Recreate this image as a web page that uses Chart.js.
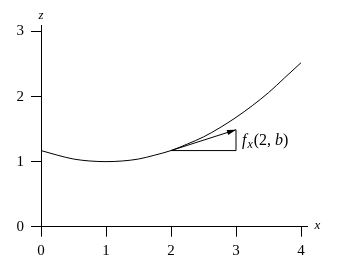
<!DOCTYPE html>
<html><head><meta charset="utf-8">
<script src="https://cdn.jsdelivr.net/npm/chart.js@4/dist/chart.umd.min.js"></script>
<style>html,body{margin:0;padding:0;background:#fff}#w{width:343px;height:266px}</style>
</head><body><div id="w"><canvas id="c" width="343" height="266"></canvas></div>
<script>
const curveX = [0, 0.25, 0.5, 0.75, 1, 1.25, 1.5, 1.75, 2, 2.25, 2.5, 2.75, 3, 3.25, 3.5, 3.75, 4];
const curveZ = [1.17, 1.10, 1.04, 1.01, 1.00, 1.01, 1.04, 1.10, 1.17, 1.27, 1.38, 1.52, 1.68, 1.86, 2.06, 2.29, 2.52];
const tangentX = [2, 3];
const tangentZ = [1.17, 1.49];
const runX = [2, 3, 3];
const runZ = [1.17, 1.17, 1.49];
const xTicks = [0, 1, 2, 3, 4];
const zTicks = [0, 1, 2, 3];

const pts = (xs, ys) => xs.map((x, i) => ({x, y: ys[i]}));
const SERIF = '"Liberation Serif", "DejaVu Serif", serif';

const annot = {
  id: 'annot',
  afterDatasetsDraw(chart) {
    const ctx = chart.ctx, xs = chart.scales.x, ys = chart.scales.y;
    ctx.save();
    ctx.fillStyle = '#000';
    // arrowhead
    const x0 = xs.getPixelForValue(tangentX[0]), y0 = ys.getPixelForValue(tangentZ[0]);
    const x1 = xs.getPixelForValue(tangentX[1]), y1 = ys.getPixelForValue(tangentZ[1]);
    const a = Math.atan2(y1 - y0, x1 - x0);
    const L = 9, W = 2.6;
    ctx.beginPath();
    ctx.moveTo(x1, y1);
    ctx.lineTo(x1 - L*Math.cos(a) + W*Math.sin(a), y1 - L*Math.sin(a) - W*Math.cos(a));
    ctx.lineTo(x1 - L*Math.cos(a) - W*Math.sin(a), y1 - L*Math.sin(a) + W*Math.cos(a));
    ctx.closePath();
    ctx.fill();
    // axis names
    ctx.font = 'italic 13px ' + SERIF;
    ctx.textAlign = 'center';
    ctx.textBaseline = 'middle';
    ctx.fillText('z', xs.getPixelForValue(0), ys.top - 9);
    ctx.fillText('x', xs.right + 10, ys.getPixelForValue(0) - 1);
    // f_x(2,b)
    ctx.textAlign = 'left';
    ctx.textBaseline = 'alphabetic';
    let px = x1 + 6;
    const base = ys.getPixelForValue(tangentZ[0]) - 5.5;
    const seg = (t, font, dy) => { ctx.font = font; ctx.fillText(t, px, base + dy); px += ctx.measureText(t).width; };
    seg('f', 'italic 16px ' + SERIF, 0);
    px += 1;
    seg('x', 'italic 12px ' + SERIF, 2.5);
    px += 1;
    seg('(2, ', '16px ' + SERIF, 0);
    seg('b', 'italic 16px ' + SERIF, 0);
    seg(')', '16px ' + SERIF, 0);
    ctx.restore();
  }
};

const lineDs = (data) => ({data, borderColor: '#000', borderWidth: 1, pointRadius: 0, fill: false, tension: 0});

new Chart(document.getElementById('c'), {
  type: 'line',
  data: {
    datasets: [
      Object.assign(lineDs(pts(curveX, curveZ)), {tension: 0.4, cubicInterpolationMode: 'monotone'}),
      lineDs(pts(tangentX, tangentZ)),
      lineDs(pts(runX, runZ))
    ]
  },
  options: {
    responsive: false,
    animation: false,
    devicePixelRatio: 1,
    layout: {padding: {left: 0, right: 35.5, top: 25, bottom: 0}},
    plugins: {legend: {display: false}, tooltip: {enabled: false}},
    scales: {
      x: {
        type: 'linear', min: 0, max: 4.1,
        afterBuildTicks: s => { s.ticks = xTicks.map(v => ({value: v})); },
        afterFit: s => { s.height = 39.3; },
        grid: {display: true, drawOnChartArea: false, drawTicks: true, tickLength: 10, color: '#000', lineWidth: 1},
        border: {display: true, color: '#000', width: 1},
        ticks: {color: '#000', padding: 5, font: {family: SERIF, size: 15}, maxRotation: 0}
      },
      y: {
        type: 'linear', min: 0, max: 3.1,
        afterBuildTicks: s => { s.ticks = zTicks.map(v => ({value: v})); },
        afterFit: s => { s.width = 41; },
        grid: {display: true, drawOnChartArea: false, drawTicks: true, tickLength: 10, color: '#000', lineWidth: 1},
        border: {display: true, color: '#000', width: 1},
        ticks: {color: '#000', padding: 7, font: {family: SERIF, size: 15}}
      }
    }
  },
  plugins: [annot]
});
</script></body></html>
